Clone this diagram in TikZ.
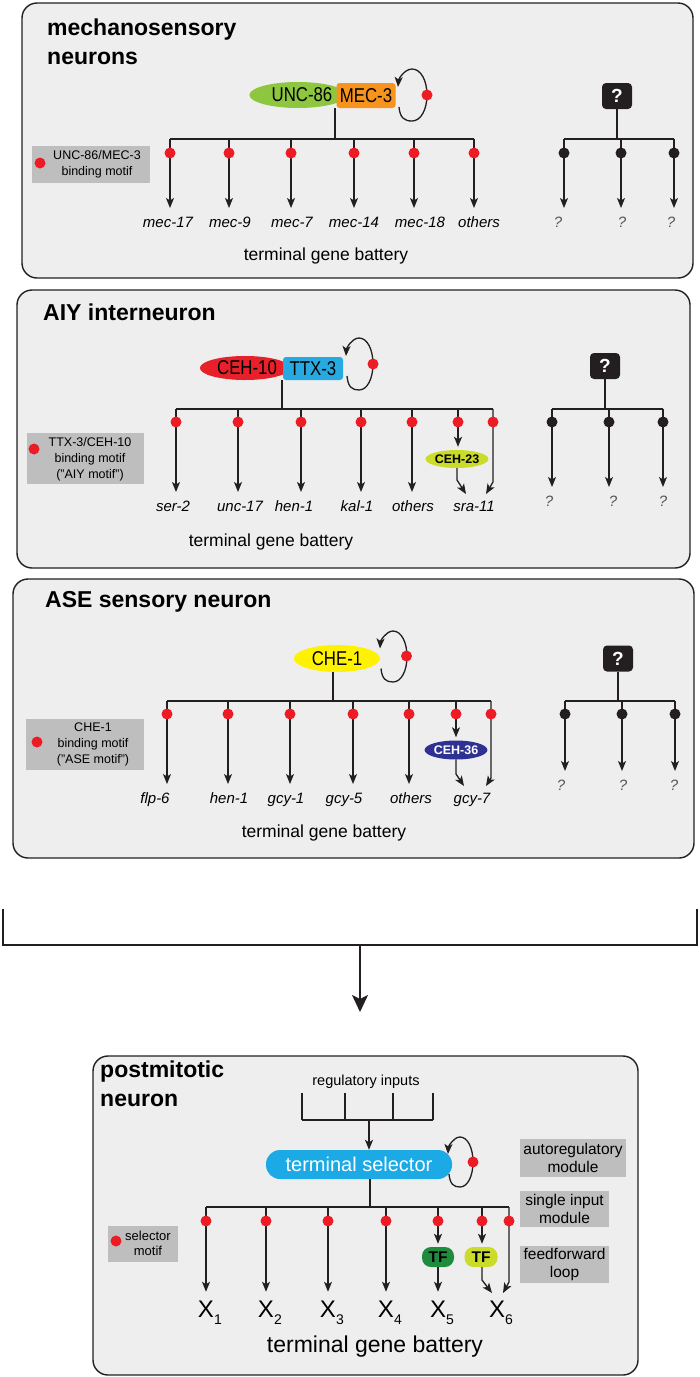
\documentclass[tikz,border=0pt]{standalone}
\usepackage{fontspec}
\setmainfont{Liberation Sans}
\newfontfamily\condfont{Liberation Sans}[FakeStretch=0.84]
\usetikzlibrary{arrows.meta,shapes.geometric}
\newcommand{\fsz}[1]{\fontsize{#1}{#1}\selectfont}
\newcommand{\fszl}[2]{\fontsize{#1}{#2}\selectfont}
\definecolor{panelgray}{RGB}{238,238,238}
\definecolor{legendgray}{RGB}{190,190,190}
\definecolor{dotred}{RGB}{237,28,36}
\definecolor{ink}{RGB}{35,31,32}
\definecolor{uncgreen}{RGB}{141,198,63}
\definecolor{mecorange}{RGB}{247,148,29}
\definecolor{cehred}{RGB}{232,32,42}
\definecolor{ttxblue}{RGB}{39,170,225}
\definecolor{cheyellow}{RGB}{255,242,0}
\definecolor{limegreen}{RGB}{203,219,42}
\definecolor{navyblue}{RGB}{46,49,146}
\definecolor{tfgreen}{RGB}{30,140,60}
\definecolor{selblue}{RGB}{27,170,230}
\newcommand{\selfloopat}[4]{%
  \draw[arr] (#1-#3+2,#2+12) .. controls (#1-#3+3,#2+#4-3) and (#1-#3*0.5,#2+#4) .. (#1,#2+#4)
     .. controls (#1+#3*0.6,#2+#4) and (#1+#3,#2+#4*0.55) .. (#1+#3,#2)
     .. controls (#1+#3,#2-#4*0.55) and (#1+#3*0.6,#2-#4) .. (#1,#2-#4)
     .. controls (#1-#3*0.5,#2-#4) and (#1-#3*0.9,#2-#4*0.6) .. (#1-#3+1,#2-8);
}
\begin{document}
\begin{tikzpicture}[x=1pt,y=-1pt,
  panel/.style={draw=ink, line width=1.4pt, fill=panelgray, rounded corners=15pt},
  wire/.style={draw=ink, line width=1.3pt},
  arr/.style={wire, -{Stealth[length=10pt,width=8pt,inset=2.5pt]}},
  rdot/.style={circle, fill=dotred, inner sep=0pt, minimum size=11pt},
  kdot/.style={circle, fill=ink, inner sep=0pt, minimum size=11pt},
  gene/.style={font={\fsz{15}\itshape}, inner sep=0pt, text height=11pt, text depth=3pt, outer ysep=8pt},
  qlab/.style={gene, text=ink!75},
  xlab/.style={font={\fsz{24}}, inner sep=0pt, text height=17.5pt, text depth=0pt, outer ysep=8pt},
  title/.style={font={\fsz{23}\bfseries}, anchor=base west, inner sep=0pt},
  battery/.style={font={\fsz{17.5}}, inner sep=0pt},
  legbox/.style={fill=legendgray, inner sep=0pt},
  legtext/.style={font={\fszl{12.5}{16}}, align=center, inner sep=0pt},
  qbox/.style={fill=ink, rounded corners=4pt, minimum width=30pt, minimum height=26pt, inner sep=0pt, text=white, font={\fsz{19}\bfseries}},
  prot/.style={inner sep=0pt, font={\condfont\fsz{20}}},
  sprot/.style={ellipse, inner sep=0pt, font={\fsz{12.5}\bfseries}},
  graylab/.style={fill=legendgray, inner sep=0pt, align=center, font={\fszl{15.5}{18}}}
]
\useasboundingbox (0,0) rectangle (700,1377);

% ================= panels =================
\draw[panel] (22,3) rectangle (693,278);
\draw[panel] (17,290) rectangle (690,568);
\draw[panel] (13,579) rectangle (694,858);
\draw[panel] (93,1056) rectangle (638,1375);

% ================= panel 1 =================
\node[title] (t1a) at (47,35) {mechanosensory};
\node[title] (t1b) at (47,64) {neurons};
\node[prot, ellipse, fill=uncgreen, minimum width=82pt, minimum height=26pt] (unc) at (298,95) {\hspace{8pt}UNC-86};
\node[prot, fill=mecorange, rounded corners=3pt, minimum width=59pt, minimum height=25pt] (mec) at (366,95.5) {MEC-3};
\selfloopat{412}{95}{15}{26}
\node[rdot] (l1dot) at (427,95) {};
\coordinate (h1) at (335,139);
\draw[wire] (h1 |- mec.south) -- (h1);
\coordinate (a1l) at (170,139);
\coordinate (a1r) at (474,139);
\draw[wire] (a1l) -- (a1r);
\foreach \x/\lx/\lab [count=\i] in {170/168/mec-17, 229/230/mec-9, 291/292/mec-7, 354/354/mec-14, 414/420/mec-18, 474/479/others}{
  \coordinate (pa\i) at (\x,139);
  \node[gene] (ga\i) at (\lx,223) {\lab};
  \draw[arr] (pa\i) -- (pa\i |- ga\i.north);
  \node[rdot] (da\i) at (\x,153) {};
}
\node[legbox, minimum width=118pt, minimum height=37pt] (leg1) at (91,164.5) {};
\node[rdot] (leg1dot) at (40,163) {};
\node[legtext] (leg1t) at (97,164) {UNC-86/MEC-3\\binding motif};
\node[battery] (bat1) at (326,256) {terminal gene battery};
% unknown
\node[qbox] (q1) at (617,96) {?};
\coordinate (qh1) at (617,139);
\draw[wire] (q1.south) -- (qh1);
\coordinate (qa1l) at (564,139);
\coordinate (qa1r) at (674,139);
\draw[wire] (qa1l) -- (qa1r);
\foreach \x/\lx [count=\i] in {564/558, 621/622, 674/671}{
  \coordinate (qpa\i) at (\x,139);
  \node[qlab] (qga\i) at (\lx,223) {?};
  \draw[arr] (qpa\i) -- (qpa\i |- qga\i.north);
  \node[kdot] (qda\i) at (\x,153) {};
}

% ================= panel 2 =================
\node[title] (t2) at (43,320) {AIY interneuron};
\node[prot, ellipse, fill=cehred, minimum width=80pt, minimum height=24pt] (ceh10) at (245,368) {\hspace{4pt}CEH-10};
\node[prot, fill=ttxblue, rounded corners=3pt, minimum width=60pt, minimum height=23pt] (ttx) at (313,368.5) {TTX-3};
\selfloopat{359}{364}{14}{26}
\node[rdot] (l2dot) at (373,364) {};
\coordinate (h2) at (282,409);
\draw[wire] (h2 |- ttx.south) -- (h2);
\coordinate (b2l) at (176,409);
\coordinate (b2r) at (493,409);
\draw[wire] (b2l) -- (b2r);
\foreach \x/\lx/\lab [count=\i] in {176/173/ser-2, 238/240/unc-17, 301/294/hen-1, 361/357/kal-1, 412/413/others}{
  \coordinate (pb\i) at (\x,409);
  \node[gene] (gb\i) at (\lx,507) {\lab};
  \draw[arr] (pb\i) -- (pb\i |- gb\i.north);
  \node[rdot] (db\i) at (\x,422) {};
}
\coordinate (pb6) at (458,409);
\coordinate (pb7) at (493,409);
\node[sprot, fill=limegreen, minimum width=62pt, minimum height=18pt] (ceh23) at (457,459) {CEH-23};
\draw[arr, shorten >=3pt] (pb6) -- (pb6 |- ceh23.north);
\node[gene] (sra) at (474,507) {sra-11};
\coordinate (sraA) at (466,494);
\coordinate (sraB) at (486,494);
\coordinate (k23) at (457,480);
\coordinate (k23r) at (493,482);
\draw[arr] (ceh23.south) -- (k23) -- (sraA);
\draw[arr] (pb7) -- (k23r) -- (sraB);
\node[rdot] (db6) at (458,422) {};
\node[rdot] (db7) at (493,422) {};
\node[legbox, minimum width=117pt, minimum height=51pt] (leg2) at (85.5,458.5) {};
\node[rdot] (leg2dot) at (34,449) {};
\node[legtext] (leg2t) at (90,459) {TTX-3/CEH-10\\binding motif\\(”AIY motif”)};
\node[battery] (bat2) at (271,542) {terminal gene battery};
% unknown
\node[qbox] (q2) at (605,366) {?};
\coordinate (qh2) at (605,409);
\draw[wire] (q2.south) -- (qh2);
\coordinate (qb2l) at (552,409);
\coordinate (qb2r) at (663,409);
\draw[wire] (qb2l) -- (qb2r);
\foreach \x/\lx [count=\i] in {552/549, 609/613, 663/663}{
  \coordinate (qpb\i) at (\x,409);
  \node[qlab] (qgb\i) at (\lx,502) {?};
  \draw[arr] (qpb\i) -- (qpb\i |- qgb\i.north);
  \node[kdot] (qdb\i) at (\x,422) {};
}

% ================= panel 3 =================
\node[title] (t3) at (45,607) {ASE sensory neuron};
\node[prot, ellipse, fill=cheyellow, minimum width=86pt, minimum height=27pt] (che) at (337,658.5) {CHE-1};
\selfloopat{393}{656.5}{14}{25.5}
\node[rdot] (l3dot) at (406.5,656) {};
\coordinate (h3) at (333,701);
\draw[wire] (h3 |- che.south) -- (h3);
\coordinate (c3l) at (167,701);
\coordinate (c3r) at (491,701);
\draw[wire] (c3l) -- (c3r);
\foreach \x/\lx/\lab [count=\i] in {167/155/flp-6, 228/229/hen-1, 290/286/gcy-1, 353/344/gcy-5, 409/411/others}{
  \coordinate (pc\i) at (\x,701);
  \node[gene] (gc\i) at (\lx,799) {\lab};
  \draw[arr] (pc\i) -- (pc\i |- gc\i.north);
  \node[rdot] (dc\i) at (\x,714) {};
}
\coordinate (pc6) at (456,701);
\coordinate (pc7) at (491,701);
\node[sprot, fill=navyblue, text=white, minimum width=62pt, minimum height=19pt] (ceh36) at (456,750) {CEH-36};
\draw[arr, shorten >=3pt] (pc6) -- (pc6 |- ceh36.north);
\node[gene] (gcy7) at (472,799) {gcy-7};
\coordinate (gcyA) at (464,786);
\coordinate (gcyB) at (486,786);
\coordinate (k36) at (456,774);
\coordinate (k36r) at (491,778);
\draw[arr] (ceh36.south) -- (k36) -- (gcyA);
\draw[arr] (pc7) -- (k36r) -- (gcyB);
\node[rdot] (dc6) at (456,714) {};
\node[rdot] (dc7) at (491,714) {};
\node[legbox, minimum width=118pt, minimum height=51pt] (leg3) at (85,744.5) {};
\node[rdot] (leg3dot) at (37,742) {};
\node[legtext] (leg3t) at (93,744.5) {CHE-1\\binding motif\\(”ASE motif”)};
\node[battery] (bat3) at (324,833) {terminal gene battery};
% unknown
\node[qbox] (q3) at (618,658.5) {?};
\coordinate (qh3) at (618,701);
\draw[wire] (q3.south) -- (qh3);
\coordinate (qc3l) at (565,701);
\coordinate (qc3r) at (675,701);
\draw[wire] (qc3l) -- (qc3r);
\foreach \x/\lx [count=\i] in {565/561, 622/623, 675/674}{
  \coordinate (qpc\i) at (\x,701);
  \node[qlab] (qgc\i) at (\lx,786) {?};
  \draw[arr] (qpc\i) -- (qpc\i |- qgc\i.north);
  \node[kdot] (qdc\i) at (\x,714) {};
}

% ================= bracket =================
\coordinate (brl) at (3,909);
\coordinate (brlc) at (3,945);
\coordinate (brrc) at (697,945);
\coordinate (brr) at (697,909);
\coordinate (brm) at (360,945);
\coordinate (brtip) at (360,1012);
\draw[wire] (brl) -- (brlc) -- (brrc) -- (brr);
\draw[wire, -{Stealth[length=17pt,width=16pt,inset=4pt]}] (brm) -- (brtip);

% ================= panel 4 =================
\node[title] (t4a) at (100,1077) {postmitotic};
\node[title] (t4b) at (100,1106) {neuron};
\node[inner sep=0pt, font={\fsz{14.5}}] (reg) at (366,1082) {regulatory inputs};
\foreach \x [count=\i] in {302,345,393,433}{
  \coordinate (ri\i) at (\x,1093);
  \coordinate (rj\i) at (\x,1120);
  \draw[wire] (ri\i) -- (rj\i);
}
\draw[wire] (rj1) -- (rj4);
\node[fill=selblue, rounded corners=14pt, minimum width=186pt, minimum height=29pt, inner sep=0pt, text=white, font={\fsz{20}}] (sel) at (359,1164.5) {terminal selector};
\coordinate (rin) at (369,1120);
\draw[arr] (rin) -- (rin |- sel.north);
\selfloopat{460}{1162}{13}{25}
\node[rdot] (l4dot) at (473,1162) {};
\coordinate (h4) at (370,1207);
\draw[wire] (h4 |- sel.south) -- (h4);
\coordinate (d4l) at (206,1207);
\coordinate (d4r) at (509,1207);
\draw[wire] (d4l) -- (d4r);
\foreach \x [count=\i] in {206,266,328,386}{
  \coordinate (pd\i) at (\x,1207);
  \node[xlab] (xd\i) at (\x,1308.5) {X\rlap{\raisebox{-7pt}{\fsz{14}\i}}};
  \draw[arr] (pd\i) -- (pd\i |- xd\i.north);
  \node[rdot] (dd\i) at (\x,1221) {};
}
\coordinate (pd5) at (438,1207);
\coordinate (pd6) at (482,1207);
\coordinate (pd7) at (509,1207);
\node[fill=tfgreen, rounded corners=9pt, minimum width=32pt, minimum height=20pt, inner sep=0pt, font={\fsz{15.5}\bfseries}] (tf1) at (438,1257) {TF};
\node[fill=limegreen, rounded corners=9pt, minimum width=33pt, minimum height=20pt, inner sep=0pt, font={\fsz{15.5}\bfseries}] (tf2) at (481,1257) {TF};
\draw[arr, shorten >=3pt] (pd5) -- (pd5 |- tf1.north);
\draw[arr, shorten >=3pt] (pd6) -- (pd6 |- tf2.north);
\node[xlab] (xd5) at (438,1308.5) {X\rlap{\raisebox{-7pt}{\fsz{14}5}}};
\node[xlab] (xd6) at (497,1308.5) {X\rlap{\raisebox{-7pt}{\fsz{14}6}}};
\draw[arr] (tf1.south) -- (tf1.south |- xd5.north);
\coordinate (x6a) at (492,1293);
\coordinate (x6b) at (503,1293);
\coordinate (k6) at (482,1280);
\coordinate (k7) at (509,1282);
\draw[arr] (tf2.south -| pd6) -- (k6) -- (x6a);
\draw[arr] (pd7) -- (k7) -- (x6b);
\node[rdot] (dd5) at (438,1221) {};
\node[rdot] (dd6) at (482,1221) {};
\node[rdot] (dd7) at (509,1221) {};
\node[legbox, minimum width=70pt, minimum height=36pt] (leg4) at (143,1244) {};
\node[rdot] (leg4dot) at (116,1241) {};
\node[legtext, font={\fszl{13}{15}}] (leg4t) at (148,1243) {selector\\motif};
\node[graylab, minimum width=106pt, minimum height=38pt] (auto) at (573,1158) {autoregulatory\\module};
\node[graylab, minimum width=89pt, minimum height=36pt] (sim) at (564.5,1209) {single input\\module};
\node[graylab, minimum width=89pt, minimum height=37pt] (ffl) at (564.5,1264.5) {feedforward\\loop};
\node[inner sep=0pt, font={\fsz{23}}] (bat4) at (375,1347) {terminal gene battery};
\end{tikzpicture}
\end{document}
